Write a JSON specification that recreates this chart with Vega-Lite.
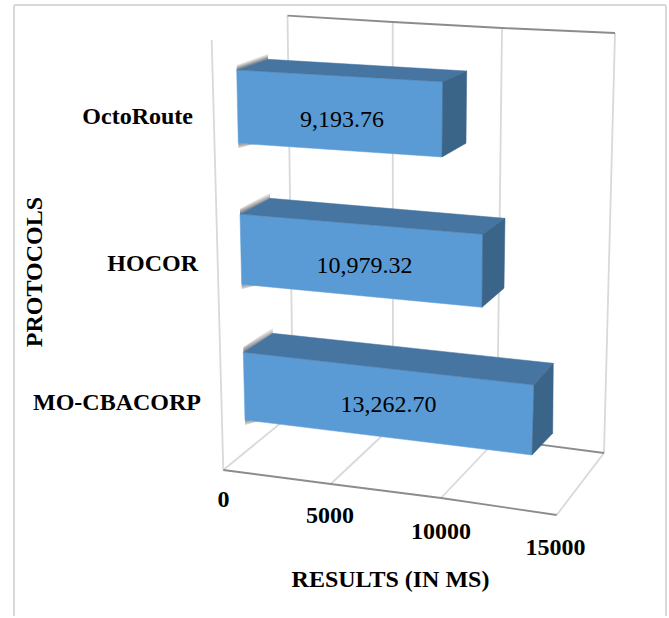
{"$schema":"https://vega.github.io/schema/vega-lite/v6.json","width":669,"height":618,"padding":0,"autosize":{"type":"fit","contains":"padding"},"background":"white","config":{"view":{"stroke":null},"text":{"font":"Liberation Serif"}},"datasets":{"bars":[{"protocol":"OctoRoute","value":9193.76},{"protocol":"HOCOR","value":10979.32},{"protocol":"MO-CBACORP","value":13262.70}],"ticks":[{"tick":0},{"tick":5000},{"tick":10000},{"tick":15000}],"frame":[{"edge":0},{"edge":1},{"edge":2}]},"data":{"name":"bars"},"transform":[{"calculate":"indexof(['OctoRoute','HOCOR','MO-CBACORP'],datum.protocol)","as":"i"},{"calculate":"[236.7,240,243.3][datum.i]","as":"tlx"},{"calculate":"[70,214,352.3][datum.i]","as":"tly"},{"calculate":"[238.3,241.7,245][datum.i]","as":"blx"},{"calculate":"[143.3,284.3,420][datum.i]","as":"bly"},{"calculate":"datum.tlx+datum.value*[0.022406,0.022105,0.021919][datum.i]","as":"trx"},{"calculate":"datum.tly+datum.value*[0.001273,0.001849,0.002466][datum.i]","as":"try"},{"calculate":"datum.blx+datum.value*[0.022156,0.021887,0.02164][datum.i]","as":"brx"},{"calculate":"datum.bly+datum.value*[0.00149,0.002095,0.002639][datum.i]","as":"bry"},{"calculate":"[268,270,272.7][datum.i]","as":"btlx"},{"calculate":"[59.3,198.3,333.3][datum.i]","as":"btly"},{"calculate":"datum.btlx+datum.value*[0.021612,0.021404,0.021157][datum.i]","as":"btrx"},{"calculate":"datum.btly+datum.value*[0.001273,0.001822,0.002262][datum.i]","as":"btry"},{"calculate":"datum.btrx-[0.7,1,0.6][datum.i]","as":"bbrx"},{"calculate":"datum.btry+[72.3,70,70][datum.i]","as":"bbry"}],"encoding":{"x":{"field":"sx","type":"quantitative","scale":{"domain":[0,669],"nice":false,"zero":false},"axis":{"title":"RESULTS (IN MS)","domain":false,"ticks":false,"labels":false,"grid":false,"titleFont":"Liberation Serif","titleFontSize":24,"titleFontWeight":"bold","titleColor":"black","titleX":390,"titleY":-32,"titleBaseline":"alphabetic","titleAlign":"center","titleAnchor":null}},"y":{"field":"sy","type":"quantitative","scale":{"domain":[618,0],"nice":false,"zero":false},"axis":{"title":"PROTOCOLS","domain":false,"ticks":false,"labels":false,"grid":false,"titleFont":"Liberation Serif","titleFontSize":24,"titleFontWeight":"bold","titleColor":"black","titleX":41,"titleY":271.5,"titleAngle":270,"titleBaseline":"alphabetic","titleAlign":"center","titleAnchor":null}}},"layer":[{"data":{"name":"frame"},"transform":[{"calculate":"[14,14,666][datum.edge]","as":"sx"},{"calculate":"[616,5,5][datum.edge]","as":"sy"},{"calculate":"[14,666,666][datum.edge]","as":"sx2"},{"calculate":"[5,5,616][datum.edge]","as":"sy2"}],"mark":{"type":"rule","stroke":"#d9d9d9","strokeWidth":2},"encoding":{"x2":{"field":"sx2"},"y2":{"field":"sy2"}}},{"data":{"name":"ticks"},"transform":[{"calculate":"datum.tick/5000","as":"j"},{"calculate":"[287.5,392.7,502,615][datum.j]","as":"sx"},{"calculate":"[15.7,22,28,33][datum.j]","as":"sy"},{"calculate":"[293,393,497,604][datum.j]","as":"sx2"},{"calculate":"[413,425.5,439,453][datum.j]","as":"sy2"}],"mark":{"type":"rule","stroke":"#d9d9d9","strokeWidth":1.8},"encoding":{"x2":{"field":"sx2"},"y2":{"field":"sy2"}}},{"data":{"name":"ticks"},"transform":[{"calculate":"datum.tick/5000","as":"j"},{"calculate":"[293,393,497,604][datum.j]","as":"sx"},{"calculate":"[413,425.5,439,453][datum.j]","as":"sy"},{"calculate":"[223.3,330.7,441,556.7][datum.j]","as":"sx2"},{"calculate":"[470,484,498,515][datum.j]","as":"sy2"}],"mark":{"type":"rule","stroke":"#d9d9d9","strokeWidth":1.8},"encoding":{"x2":{"field":"sx2"},"y2":{"field":"sy2"}}},{"data":{"name":"ticks"},"transform":[{"filter":"datum.tick===0"},{"calculate":"211.7","as":"sx"},{"calculate":"40","as":"sy"},{"calculate":"223.3","as":"sx2"},{"calculate":"470","as":"sy2"}],"mark":{"type":"rule","stroke":"#d9d9d9","strokeWidth":1.8},"encoding":{"x2":{"field":"sx2"},"y2":{"field":"sy2"}}},{"data":{"name":"ticks"},"transform":[{"calculate":"datum.tick/5000","as":"j"},{"calculate":"[287.5,392.7,502,615][datum.j]","as":"sx"},{"calculate":"[15.7,22,28,33][datum.j]","as":"sy"}],"mark":{"type":"line","stroke":"#8c8c8c","strokeWidth":1.8},"encoding":{"order":{"field":"tick"}}},{"data":{"name":"ticks"},"transform":[{"calculate":"datum.tick/5000","as":"j"},{"calculate":"[293,393,497,604][datum.j]","as":"sx"},{"calculate":"[413,425.5,439,453][datum.j]","as":"sy"}],"mark":{"type":"line","stroke":"#8c8c8c","strokeWidth":1.8},"encoding":{"order":{"field":"tick"}}},{"data":{"name":"ticks"},"transform":[{"calculate":"datum.tick/5000","as":"j"},{"calculate":"[223.3,330.7,441,556.7][datum.j]","as":"sx"},{"calculate":"[470,484,498,515][datum.j]","as":"sy"}],"mark":{"type":"line","stroke":"#8c8c8c","strokeWidth":1.8},"encoding":{"order":{"field":"tick"}}},{"transform":[{"calculate":"[datum.tlx,datum.btlx,datum.btlx,datum.tlx]","as":"xs"},{"calculate":"[datum.tly,datum.btly,datum.btly-6,datum.tly-5]","as":"ys"},{"calculate":"[0,1,2,3]","as":"os"},{"flatten":["xs","ys","os"],"as":["sx","sy","o"]}],"mark":{"type":"line","filled":true,"interpolate":"linear-closed","stroke":null,"fill":{"gradient":"linear","x1":0.5,"y1":0.68,"x2":0.34,"y2":0.434,"stops":[{"offset":0,"color":"#777777"},{"offset":1,"color":"#ffffff"}]}},"encoding":{"order":{"field":"o"},"detail":{"field":"protocol"}}},{"transform":[{"calculate":"[datum.blx,datum.blx+15,datum.blx]","as":"xs"},{"calculate":"[datum.bly,datum.bly+1,datum.bly+5]","as":"ys"},{"calculate":"[0,1,2]","as":"os"},{"flatten":["xs","ys","os"],"as":["sx","sy","o"]}],"mark":{"type":"line","filled":true,"interpolate":"linear-closed","stroke":null,"fill":{"gradient":"linear","x1":0,"y1":0,"x2":0.6,"y2":1,"stops":[{"offset":0,"color":"#888888"},{"offset":1,"color":"#ffffff"}]}},"encoding":{"order":{"field":"o"},"detail":{"field":"protocol"}}},{"transform":[{"calculate":"[datum.tlx,datum.trx,datum.brx,datum.blx]","as":"xs"},{"calculate":"[datum.tly,datum.try,datum.bry,datum.bly]","as":"ys"},{"calculate":"[0,1,2,3]","as":"os"},{"flatten":["xs","ys","os"],"as":["sx","sy","o"]}],"mark":{"type":"line","filled":true,"interpolate":"linear-closed","fill":"#5b9bd5","stroke":"#5b9bd5","strokeWidth":0.5},"encoding":{"order":{"field":"o"},"detail":{"field":"protocol"}}},{"transform":[{"calculate":"[datum.tlx,datum.btlx,datum.btrx,datum.trx]","as":"xs"},{"calculate":"[datum.tly,datum.btly,datum.btry,datum.try]","as":"ys"},{"calculate":"[0,1,2,3]","as":"os"},{"flatten":["xs","ys","os"],"as":["sx","sy","o"]}],"mark":{"type":"line","filled":true,"interpolate":"linear-closed","fill":"#4675a1","stroke":"#4675a1","strokeWidth":0.5},"encoding":{"order":{"field":"o"},"detail":{"field":"protocol"}}},{"transform":[{"calculate":"[datum.trx,datum.btrx,datum.bbrx,datum.brx]","as":"xs"},{"calculate":"[datum.try,datum.btry,datum.bbry,datum.bry]","as":"ys"},{"calculate":"[0,1,2,3]","as":"os"},{"flatten":["xs","ys","os"],"as":["sx","sy","o"]}],"mark":{"type":"line","filled":true,"interpolate":"linear-closed","fill":"#3a6488","stroke":"#3a6488","strokeWidth":0.5},"encoding":{"order":{"field":"o"},"detail":{"field":"protocol"}}},{"transform":[{"calculate":"[342,364.5,388.5][datum.i]","as":"sx"},{"calculate":"[126.7,273.3,412.3][datum.i]","as":"sy"}],"mark":{"type":"text","align":"center","baseline":"alphabetic","fontSize":24,"font":"Liberation Serif","color":"black"},"encoding":{"text":{"field":"value","type":"quantitative","format":",.2f"}}},{"transform":[{"calculate":"[193,198,201][datum.i]","as":"sx"},{"calculate":"[124,270.7,410][datum.i]","as":"sy"}],"mark":{"type":"text","align":"right","baseline":"alphabetic","fontSize":24,"fontWeight":"bold","font":"Liberation Serif","color":"black"},"encoding":{"text":{"field":"protocol","type":"nominal"}}},{"data":{"name":"ticks"},"transform":[{"calculate":"datum.tick/5000","as":"j"},{"calculate":"[223.5,330,441,555.5][datum.j]","as":"sx"},{"calculate":"[507,523,539,555][datum.j]","as":"sy"}],"mark":{"type":"text","align":"center","baseline":"alphabetic","fontSize":24,"fontWeight":"bold","font":"Liberation Serif","color":"black"},"encoding":{"text":{"field":"tick","type":"quantitative","format":"d"}}}]}
